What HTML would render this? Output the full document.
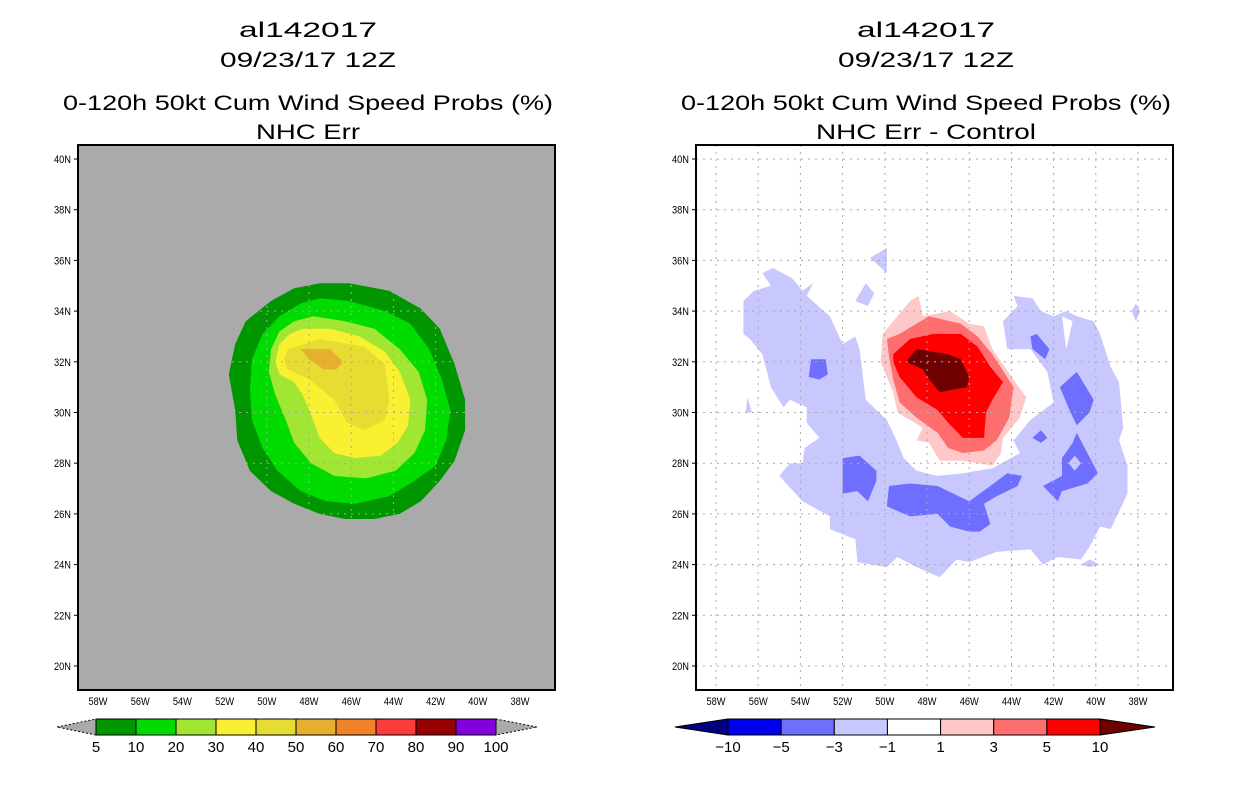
<!DOCTYPE html>
<html><head><meta charset="utf-8"><style>
html,body{margin:0;padding:0;background:#fff;}
svg{display:block;}
text{font-family:"Liberation Sans",sans-serif;fill:#000;}
</style></head><body>
<svg id="fig" width="1236" height="800" viewBox="0 0 1236 800"></svg>
<script>
// ---------- data (lon in degrees West, lat in degrees North) ----------
const lonTicks = [58,56,54,52,50,48,46,44,42,40,38];
const latTicks = [40,38,36,34,32,30,28,26,24,22,20];
const leftLevels = ['5','10','20','30','40','50','60','70','80','90','100'];
const leftColors = ['#009600','#00dc00','#a0e632','#faf032','#e6dc32','#e6af2d','#f08228','#fa3c3c','#960000','#8200dc'];
const rightLevels = ['-10','-5','-3','-1','1','3','5','10'];
const rightColors = ['#0000f0','#6e6eff','#c8c8ff','#ffffff','#ffc8c8','#ff6e6e','#ff0000'];

const probP5 = [[47.5,35.1],[46.1,35.1],[44.2,34.8],[42.7,34.1],[41.8,33.3],[41.1,31.9],[40.6,30.5],[40.6,29.3],[41.1,28.1],[41.8,27.3],[42.7,26.5],[43.7,26.0],[44.9,25.8],[46.3,25.8],[47.5,26.0],[48.7,26.4],[49.8,26.9],[50.8,27.7],[51.4,28.9],[51.5,30.1],[51.8,31.5],[51.5,32.7],[51.0,33.6],[49.8,34.4],[48.7,34.9]];
const probP10 = [[47.5,34.5],[46.1,34.4],[44.4,34.0],[43.2,33.5],[42.3,32.5],[41.7,31.3],[41.3,30.1],[41.5,28.9],[42.0,27.9],[43.0,27.3],[44.2,26.7],[45.8,26.4],[47.2,26.5],[48.4,26.9],[49.5,27.7],[50.2,28.6],[50.7,29.7],[50.8,30.9],[50.7,32.1],[50.2,33.1],[49.4,33.8],[48.4,34.3]];
const probP20 = [[47.8,33.8],[46.3,33.6],[44.9,33.3],[43.7,32.5],[42.8,31.6],[42.4,30.5],[42.5,29.3],[43.0,28.4],[43.9,27.7],[45.3,27.4],[46.8,27.5],[47.9,28.0],[48.7,28.8],[49.1,29.7],[49.6,30.7],[49.9,31.6],[49.8,32.5],[49.4,33.2],[48.7,33.6]];
const probP30 = [[48.3,33.3],[47.0,33.3],[45.6,33.0],[44.4,32.4],[43.7,31.6],[43.2,30.5],[43.3,29.5],[43.8,28.8],[44.6,28.3],[45.8,28.2],[46.8,28.4],[47.5,29.0],[47.9,29.9],[48.3,30.7],[48.7,31.2],[49.4,31.5],[49.6,32.0],[49.4,32.7],[48.9,33.1]];
const probP40 = [[49.0,32.5],[47.5,32.9],[45.4,32.6],[44.4,31.9],[44.2,30.5],[44.4,29.7],[45.4,29.3],[46.2,29.6],[46.8,30.5],[48.0,31.3],[49.0,31.7],[49.2,32.1]];
const probP50 = [[48.4,32.5],[47.0,32.5],[46.4,32.0],[46.7,31.7],[47.3,31.7],[48.0,32.1]];

const diffM1 = [[55.8,35.5],[55.3,35.7],[54.4,35.3],[53.9,34.8],[53.4,35.1],[53.7,34.6],[52.6,33.8],[52.0,32.7],[51.4,33.0],[51.2,32.5],[50.9,30.5],[49.9,29.7],[49.5,29.0],[49.1,28.2],[48.5,27.7],[47.5,27.5],[46.3,27.6],[44.9,27.8],[43.6,28.4],[43.9,28.9],[43.1,29.7],[42.0,30.4],[42.3,31.6],[43.1,32.5],[44.2,32.5],[44.4,33.6],[43.7,34.2],[43.9,34.6],[43.0,34.5],[42.6,34.0],[42.0,33.8],[41.4,34.0],[40.9,33.8],[40.1,33.6],[39.8,33.1],[39.3,31.8],[38.9,31.2],[38.7,29.4],[38.9,28.9],[38.5,27.9],[38.5,26.8],[39.3,25.4],[39.8,25.5],[40.3,24.7],[40.7,24.2],[41.8,24.3],[42.5,24.0],[43.1,24.6],[44.7,24.5],[46.0,24.1],[46.6,24.2],[47.4,23.5],[48.5,23.9],[49.4,24.3],[49.9,23.9],[51.3,24.1],[51.4,25.0],[52.6,25.4],[52.6,25.9],[53.9,26.5],[55.0,27.5],[54.5,28.0],[53.9,28.0],[53.8,28.6],[53.1,29.0],[53.7,29.6],[53.7,30.2],[54.5,30.5],[54.8,30.2],[55.4,31.0],[55.8,32.3],[56.4,32.9],[56.7,33.1],[56.7,34.4],[56.2,34.8],[55.4,35.0]];
const diffM1b = [[50.7,36.1],[49.9,36.5],[49.9,35.5]];
const diffM1c = [[51.4,34.4],[50.9,35.1],[50.5,34.7],[50.8,34.2]];
const diffM1d = [[56.5,30.6],[56.3,30.0],[56.6,30.0]];
const diffM1e = [[38.1,34.3],[37.9,34.0],[38.1,33.6],[38.3,34.0]];
const diffM1f = [[40.7,24.0],[40.3,24.2],[39.8,24.0],[40.3,23.9]];
const diffNotch = [[41.6,33.8],[41.1,33.6],[41.4,32.5]];
const diffM3a = [[53.5,32.1],[52.8,32.1],[52.7,31.5],[53.1,31.3],[53.6,31.4]];
const diffM3b = [[52.0,28.2],[51.2,28.3],[50.4,27.7],[50.4,27.3],[50.8,26.5],[51.3,26.9],[52.0,26.8],[52.0,27.6]];
const diffM3c = [[49.8,27.1],[48.8,27.2],[47.5,27.1],[46.0,26.5],[45.0,27.1],[44.2,27.6],[43.5,27.5],[43.7,27.1],[44.7,26.7],[45.3,26.4],[45.0,25.6],[45.5,25.3],[46.0,25.3],[46.9,25.5],[47.5,26.0],[48.8,25.9],[49.9,26.3]];
const diffM3d = [[43.1,33.0],[42.8,33.1],[42.2,32.5],[42.4,32.1],[43.0,32.5]];
const diffM3e = [[40.9,31.6],[40.1,30.5],[40.3,30.0],[40.9,29.5],[41.2,30.0],[41.7,31.0]];
const diffM3f = [[40.9,29.2],[39.9,27.6],[40.4,27.2],[41.6,26.9],[41.8,26.5],[42.5,27.1],[41.6,27.5],[41.6,28.2],[41.1,28.8]];
const diffM3g = [[42.6,29.3],[42.3,29.0],[42.6,28.8],[43.0,29.0]];
const diffHole = [[41.0,28.3],[40.7,28.0],[41.0,27.7],[41.3,28.0]];
const diffP1 = [[49.3,33.9],[48.8,34.4],[48.4,34.6],[48.2,33.8],[46.9,34.0],[46.0,33.5],[45.3,33.4],[44.9,32.5],[43.9,31.3],[43.3,30.6],[43.6,29.8],[44.4,29.0],[44.5,28.4],[44.9,27.9],[46.3,28.1],[47.4,28.1],[47.9,28.8],[48.5,28.9],[48.2,29.4],[49.4,30.0],[49.6,30.8],[50.2,32.0],[50.1,33.1]];
const diffP3 = [[49.9,32.9],[49.3,33.1],[47.9,33.8],[46.4,33.5],[45.6,33.0],[44.9,32.3],[43.9,31.0],[44.1,29.8],[44.7,28.9],[45.3,28.5],[46.3,28.4],[47.0,28.6],[47.5,29.2],[48.5,29.8],[49.3,30.4],[49.6,31.3],[49.8,32.2]];
const diffP5 = [[49.6,32.3],[48.8,32.9],[47.7,33.1],[46.4,33.1],[45.6,32.6],[45.0,31.8],[44.4,31.2],[44.9,30.5],[45.2,30.0],[45.3,29.0],[46.3,29.0],[47.0,29.6],[47.5,30.1],[48.5,30.6],[49.3,31.4],[49.6,32.0]];
const diffP10 = [[49.0,32.0],[48.5,32.5],[47.0,32.3],[46.4,32.1],[46.0,31.4],[46.1,31.0],[46.8,30.9],[47.4,30.8],[47.9,31.3],[48.2,31.7]];

// ---------- drawing ----------
const NS='http://www.w3.org/2000/svg';
const svg=document.getElementById('fig');
function el(tag,attrs,parent,txt){const e=document.createElementNS(NS,tag);for(const k in attrs)e.setAttribute(k,attrs[k]);if(txt!==undefined)e.textContent=txt;(parent||svg).appendChild(e);return e;}

const FY0=145,FY1=690;
function makeAxes(off){
  return {
    x: lon => off + 98 + (58-lon)*21.1,
    y: lat => 159 + (40-lat)*25.35
  };
}
function poly(ax,pts,fill,g,name){
  const p=el('polygon',{points:pts.map(q=>ax.x(q[0]).toFixed(1)+','+ax.y(q[1]).toFixed(1)).join(' '),fill:fill},g);
  
  
  return p;
}
function panel(off,bg,prefix,layers,titleLines){
  const ax=makeAxes(off);
  const g=el('g',{},svg);
  
  
  const bgr=el('rect',{x:off+78,y:FY0,width:477,height:FY1-FY0,fill:bg},g);
  
  
  layers.forEach(l=>poly(ax,l[0],l[1],g,l[2]));
  // grid
  lonTicks.forEach(lon=>{
    const x=ax.x(lon);
    const ln=el('line',{x1:x,y1:FY0,x2:x,y2:FY1,stroke:'#a8a8a8','stroke-width':1,'stroke-dasharray':'2,5'},g);
    
    
    const t=el('text',{x:x,y:705,'font-size':11,'text-anchor':'middle',textLength:19,lengthAdjust:'spacingAndGlyphs'},g,lon+'W');
    
    
  });
  latTicks.forEach(lat=>{
    const y=ax.y(lat);
    const ln=el('line',{x1:off+78,y1:y,x2:off+555,y2:y,stroke:'#a8a8a8','stroke-width':1,'stroke-dasharray':'2,5'},g);
    
    
    el('line',{x1:off+74,y1:y,x2:off+78,y2:y,stroke:'#000','stroke-width':1},g);
    const t=el('text',{x:off+71,y:y+4,'font-size':11,'text-anchor':'end',textLength:17,lengthAdjust:'spacingAndGlyphs'},g,lat+'N');
    
    
  });
  const fr=el('rect',{x:off+78,y:FY0,width:477,height:FY1-FY0,fill:'none',stroke:'#000','stroke-width':2},g);
  
  
  const cx=off+308;
  const tys=[37,67,110,139];
  titleLines.forEach((s,i)=>{
    const t=el('text',{x:cx,y:tys[i],'font-size':21,'text-anchor':'middle',textLength:s[1],lengthAdjust:'spacingAndGlyphs'},g,s[0]);
    
    
  });
}

panel(0,'#aaaaaa','left',[
  [probP5,leftColors[0],'contour-5pct'],[probP10,leftColors[1],'contour-10pct'],[probP20,leftColors[2],'contour-20pct'],
  [probP30,leftColors[3],'contour-30pct'],[probP40,leftColors[4],'contour-40pct'],[probP50,leftColors[5],'contour-50pct']
],[['al142017',138],['09/23/17 12Z',176],['0-120h 50kt Cum Wind Speed Probs (%)',490],['NHC Err',104]]);

panel(618,'#ffffff','right',[
  [diffM1,rightColors[2],'contour-minus1'],[diffM1b,rightColors[2],'contour-minus1-island'],[diffM1c,rightColors[2],'contour-minus1-island'],
  [diffM1d,rightColors[2],'contour-minus1-island'],[diffM1e,rightColors[2],'contour-minus1-island'],[diffM1f,rightColors[2],'contour-minus1-island'],
  [diffNotch,'#ffffff','contour-gap'],
  [diffM3a,rightColors[1],'contour-minus3'],[diffM3b,rightColors[1],'contour-minus3'],[diffM3c,rightColors[1],'contour-minus3'],
  [diffM3d,rightColors[1],'contour-minus3'],[diffM3e,rightColors[1],'contour-minus3'],[diffM3f,rightColors[1],'contour-minus3'],
  [diffM3g,rightColors[1],'contour-minus3'],[diffHole,rightColors[2],'contour-minus3-hole'],
  [diffP1,rightColors[4],'contour-plus1'],[diffP3,rightColors[5],'contour-plus3'],[diffP5,rightColors[6],'contour-plus5'],[diffP10,'#6e0000','contour-plus10']
],[['al142017',138],['09/23/17 12Z',176],['0-120h 50kt Cum Wind Speed Probs (%)',490],['NHC Err - Control',220]]);

// colorbars
function colorbar(prefix,x0,x1,tipL,tipR,colors,labels,lColor,rColor){
  const g=el('g',{},svg);
  
  
  const y0=719,y1=735,ym=727;
  const n=colors.length,w=(x1-x0)/n;
  el('polygon',{points:`${tipL},${ym} ${x0},${y0} ${x0},${y1}`,fill:lColor,stroke:'#000','stroke-width':1,'stroke-dasharray':lColor==='#aaaaaa'?'2,2':'none'},g);
  el('polygon',{points:`${tipR},${ym} ${x1},${y0} ${x1},${y1}`,fill:rColor,stroke:'#000','stroke-width':1,'stroke-dasharray':rColor==='#aaaaaa'?'2,2':'none'},g);
  colors.forEach((c,i)=>{
    const r=el('rect',{x:x0+i*w,y:y0,width:w,height:y1-y0,fill:c,stroke:'#000','stroke-width':1},g);
    
    
  });
  labels.forEach((s,i)=>{
    const t=el('text',{x:x0+i*w,y:752,'font-size':15,'text-anchor':'middle'},g,s.replace('-','\u2212'));
    
    
  });
}
colorbar('left',96,496,57,537,leftColors,leftLevels,'#aaaaaa','#aaaaaa');
colorbar('right',728,1100,675,1155,rightColors,rightLevels,'#000080','#6e0000');
</script>
</body></html>
